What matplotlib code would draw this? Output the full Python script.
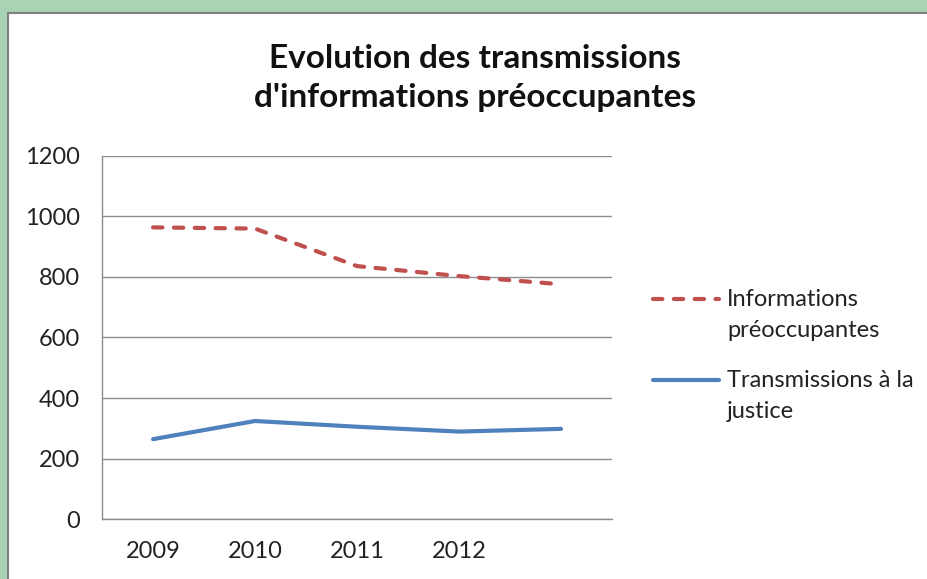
import matplotlib.pyplot as plt
from matplotlib.lines import Line2D
from matplotlib.patches import Rectangle

years = ['2009', '2010', '2011', '2012', '']
informations = [964, 960, 836, 803, 776]
transmissions = [264, 324, 305, 289, 298]
labels = ['Informations\npréoccupantes', 'Transmissions à la\njustice']

red = '#C0504D'
blue = '#4F81BD'
grid_col = '#8C8C8C'

plt.rcParams['font.family'] = ['Lato', 'DejaVu Sans']

fig = plt.figure(figsize=(9.28, 5.79), dpi=100)
fig.patch.set_facecolor('#A9D3B5')
# white panel with grey frame, kept behind the axes
fig.add_artist(Rectangle((7.5 / 928, -0.01), 1.0, 1 - 12.5 / 579 + 0.01,
                         transform=fig.transFigure, facecolor='white',
                         edgecolor='#7F7F7F', linewidth=1.5, zorder=-10))

ax = fig.add_axes([0.110, 0.1036, 0.5495, 0.627])
ax.set_facecolor('none')
x = range(len(years))
ax.plot(x, informations, color=red, linewidth=3, dashes=(2.25, 2.75),
        dash_capstyle='round', solid_capstyle='round')
ax.plot(x, transmissions, color=blue, linewidth=3, solid_capstyle='round')

ax.set_xlim(-0.5, len(years) - 0.5)
ax.set_ylim(0, 1200)
ax.set_yticks(range(0, 1201, 200))
ax.set_xticks(list(x))
ax.set_xticklabels(years)
ax.tick_params(axis='both', length=0, labelsize=17, colors='#222222')
ax.tick_params(axis='y', pad=16)
ax.tick_params(axis='x', pad=16)
ax.grid(True, axis='y', color=grid_col, linewidth=1)
ax.set_axisbelow(True)
for s in ['top', 'right']:
    ax.spines[s].set_visible(False)
for s in ['left', 'bottom']:
    ax.spines[s].set_color(grid_col)
    ax.spines[s].set_linewidth(1)

fig.text(475 / 928, 1 - 78 / 579,
         "Evolution des transmissions\nd'informations préoccupantes",
         ha='center', va='center', fontsize=24, fontweight='bold',
         linespacing=1.45, color='#111111')

# legend drawn like the spreadsheet one: handle next to the first text line
fig.add_artist(Line2D([653 / 928, 719 / 928], [1 - 299 / 579] * 2, color=red,
                      linewidth=3, dashes=(2.25, 2.75), dash_capstyle='round'))
fig.add_artist(Line2D([653 / 928, 719 / 928], [1 - 380 / 579] * 2, color=blue,
                      linewidth=3, solid_capstyle='round'))
fig.text(727 / 928, 1 - 289 / 579, labels[0], ha='left', va='top',
         fontsize=17, linespacing=1.6, color='#222222')
fig.text(727 / 928, 1 - 370 / 579, labels[1], ha='left', va='top',
         fontsize=17, linespacing=1.6, color='#222222')

plt.savefig('out.png', dpi=100, facecolor=fig.get_facecolor())
plt.close()
